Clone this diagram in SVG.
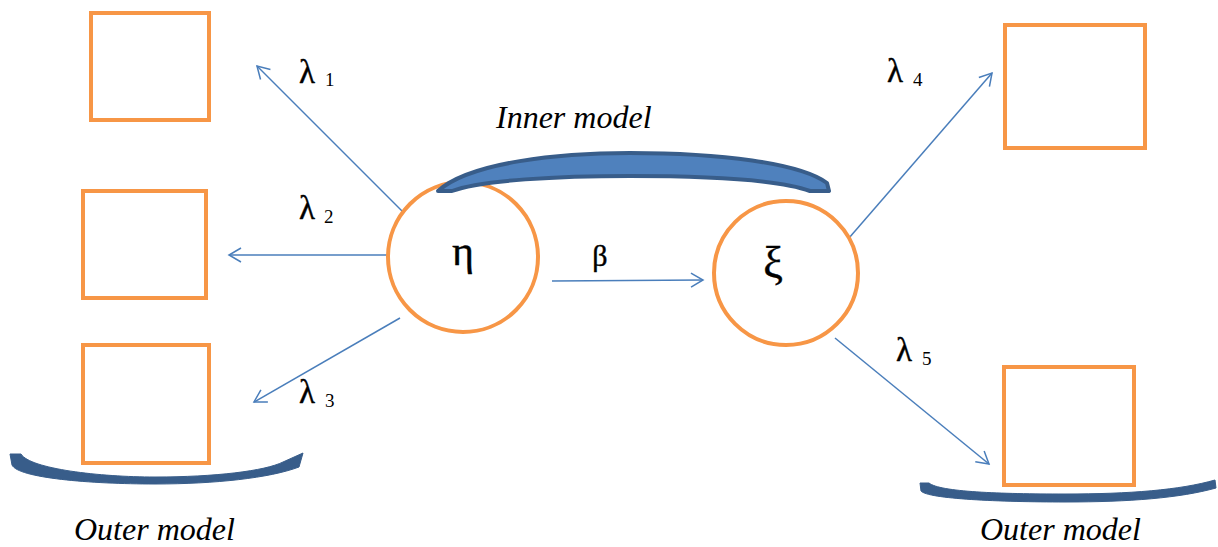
<svg xmlns="http://www.w3.org/2000/svg" width="1218" height="547" viewBox="0 0 1218 547">
<style>
.box{fill:none;stroke:#F79646;stroke-width:4}
.circ{fill:#fff;stroke:#F79646;stroke-width:4}
.conn{fill:none;stroke:#4A7EBB;stroke-width:1.5;marker-end:url(#arr)}
.lbl{font-family:"Liberation Serif","Times New Roman",serif;fill:#000}
.gk{font-family:"Liberation Serif","Times New Roman",serif;fill:#000;stroke:#000;stroke-width:0.4}
.it{font-family:"Liberation Serif","Times New Roman",serif;font-style:italic;fill:#000;font-size:32px}
.band{fill:#4F81BD;stroke:#385D8A;stroke-width:4;stroke-linejoin:round}
.bracket{fill:#385D8A;stroke:#385D8A;stroke-width:1}
</style>
<defs>
<marker id="arr" markerUnits="userSpaceOnUse" markerWidth="20" markerHeight="20" refX="13" refY="8" orient="auto" viewBox="0 0 20 16">
<path d="M1,1 L13,8 L1,15" fill="none" stroke="#4A7EBB" stroke-width="1.5"/>
</marker>
</defs>
<rect width="1218" height="547" fill="#fff"/>
<g id="connectors">
<line class="conn" x1="404" y1="213" x2="257" y2="66"/>
<line class="conn" x1="388" y1="255" x2="229" y2="255"/>
<line class="conn" x1="400" y1="318" x2="254" y2="402"/>
<line class="conn" x1="552" y1="281" x2="703" y2="280"/>
<line class="conn" x1="849" y1="238" x2="992" y2="73"/>
<line class="conn" x1="835" y1="338" x2="989" y2="464"/>
</g>
<g id="outer-model-left-brace">
<path class="bracket" d="M10,454 L21,454 C 30,469 100,477 155,477 C 215,477 265,471 283,462 L303,453 L299,467 C 270,478 215,484 155,484 C 90,484 18,478 12,465 Z"/>
</g>
<g id="outer-model-right-brace">
<path class="bracket" d="M920,483 L929,483 C 940,492 1000,494 1065,494 C 1130,494 1180,490 1215,480 L1216,488 C 1180,498 1130,502 1065,502 C 1000,502 928,499 921,491 Z"/>
</g>
<g id="box1"><rect class="box" x="91" y="13" width="118" height="107"/></g>
<g id="box2"><rect class="box" x="83" y="191" width="123" height="107"/></g>
<g id="box3"><rect class="box" x="83" y="345" width="126" height="118"/></g>
<g id="box4"><rect class="box" x="1005" y="25" width="140" height="123"/></g>
<g id="box5"><rect class="box" x="1004" y="367" width="130" height="118"/></g>
<g id="eta"><circle class="circ" cx="463" cy="257" r="75"/><text class="gk" x="463" y="265" font-size="42" text-anchor="middle">η</text></g>
<g id="xi"><circle class="circ" cx="786" cy="273" r="72"/><text class="gk" x="773" y="277" font-size="44" text-anchor="middle">ξ</text></g>
<g id="inner-model-brace">
<path class="band" d="M438,191 C 470,162 560,153 630,153 C 720,153 800,163 827,183 L829,191 L810,191 C 780,180 720,176 630,176 C 560,176 480,180 452,191 Z"/>
</g>
<g id="labels">
<text class="gk" x="299" y="83" font-size="33">λ</text><text class="lbl" x="325" y="86" font-size="19">1</text>
<text class="gk" x="299" y="219" font-size="33">λ</text><text class="lbl" x="324" y="223" font-size="19">2</text>
<text class="gk" x="299" y="403" font-size="33">λ</text><text class="lbl" x="325" y="407" font-size="19">3</text>
<text class="gk" x="887" y="82" font-size="33">λ</text><text class="lbl" x="913" y="86" font-size="19">4</text>
<text class="gk" x="896" y="361" font-size="33">λ</text><text class="lbl" x="922" y="365" font-size="19">5</text>
<text class="gk" x="600" y="266" font-size="30" text-anchor="middle">β</text>
<text class="it" x="496" y="128">Inner model</text>
<text class="it" x="74" y="540">Outer model</text>
<text class="it" x="980" y="540">Outer model</text>
</g>
</svg>
